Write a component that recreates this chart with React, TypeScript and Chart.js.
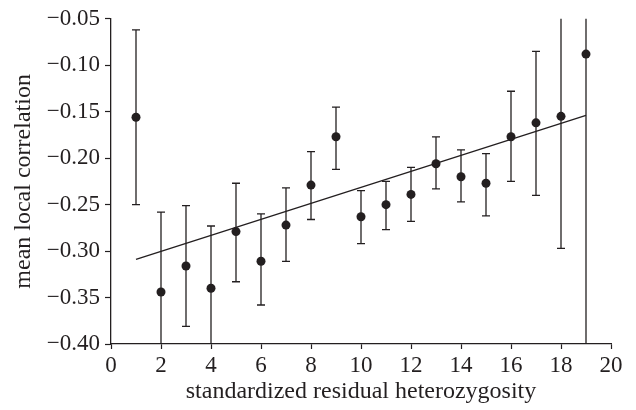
import React, { useEffect, useRef } from "react";
import { Chart, registerables } from "chart.js";

Chart.register(...registerables);

// ---- data ----
const xValues = [1, 2, 3, 4, 5, 6, 7, 8, 9, 10, 11, 12, 13, 14, 15, 16, 17, 18, 19];
const means = [-0.156, -0.344, -0.316, -0.340, -0.279, -0.311, -0.272, -0.229, -0.177, -0.263, -0.250, -0.239, -0.206, -0.220, -0.227, -0.177, -0.162, -0.155, -0.088];
const upperErr = [-0.062, -0.258, -0.251, -0.273, -0.227, -0.260, -0.232, -0.193, -0.145, -0.235, -0.225, -0.210, -0.177, -0.191, -0.195, -0.128, -0.085, 0.02, 0.05];
const lowerErr = [-0.250, -0.45, -0.381, -0.45, -0.333, -0.358, -0.311, -0.266, -0.212, -0.292, -0.277, -0.268, -0.233, -0.247, -0.262, -0.225, -0.240, -0.297, -0.48];
const fitX = [1, 19];
const fitY = [-0.309, -0.154];
const xTicks = [0, 2, 4, 6, 8, 10, 12, 14, 16, 18, 20];
const yTicks = [-0.4, -0.35, -0.3, -0.25, -0.2, -0.15, -0.1, -0.05];

const INK = "#231f20";
const FONT = "'Liberation Serif', 'Times New Roman', serif";

const errorBarPlugin = {
  id: "errorBars",
  beforeDatasetsDraw(chart: any) {
    const { ctx, chartArea } = chart;
    const xs = chart.scales.x;
    const ys = chart.scales.y;
    ctx.save();
    ctx.beginPath();
    ctx.rect(chartArea.left - 10, chartArea.top, chartArea.right - chartArea.left + 20, chartArea.bottom - chartArea.top);
    ctx.clip();
    ctx.strokeStyle = INK;
    ctx.lineWidth = 1.3;
    const half = 4;
    for (let i = 0; i < xValues.length; i++) {
      const px = xs.getPixelForValue(xValues[i]);
      const pTop = ys.getPixelForValue(upperErr[i]);
      const pBot = ys.getPixelForValue(lowerErr[i]);
      ctx.beginPath();
      ctx.moveTo(px, pTop);
      ctx.lineTo(px, pBot);
      ctx.moveTo(px - half, pTop);
      ctx.lineTo(px + half, pTop);
      ctx.moveTo(px - half, pBot);
      ctx.lineTo(px + half, pBot);
      ctx.stroke();
    }
    ctx.restore();
  },
};

const fmt = (v: number) => {
  const s = Math.abs(v).toFixed(2);
  return v < 0 ? "\u2212" + s : s;
};

export default function App() {
  const ref = useRef<HTMLCanvasElement | null>(null);

  useEffect(() => {
    if (!ref.current) return;
    const chart = new Chart(ref.current, {
      type: "scatter",
      data: {
        datasets: [
          {
            type: "line",
            data: fitX.map((x, i) => ({ x, y: fitY[i] })),
            borderColor: INK,
            borderWidth: 1.3,
            pointRadius: 0,
            fill: false,
          } as any,
          {
            type: "scatter",
            data: xValues.map((x, i) => ({ x, y: means[i] })),
            backgroundColor: INK,
            borderColor: INK,
            borderWidth: 0,
            pointRadius: 4.5,
          },
        ],
      },
      options: {
        animation: false,
        responsive: false,
        devicePixelRatio: 1,
        layout: { padding: { top: 16, right: 25, left: 0, bottom: 0 } },
        plugins: {
          legend: { display: false },
          tooltip: { enabled: false },
        },
        scales: {
          x: {
            type: "linear",
            min: 0,
            max: 20,
            afterBuildTicks: (s: any) => {
              s.ticks = xTicks.map((v) => ({ value: v }));
            },
            afterFit: (s: any) => {
              s.height = 66;
            },
            grid: {
              drawOnChartArea: false,
              drawTicks: true,
              tickLength: 5,
              color: INK,
              tickWidth: 1.2,
            },
            border: { display: true, color: INK, width: 1.3 },
            ticks: {
              color: INK,
              padding: 3,
              maxRotation: 0,
              font: { family: FONT, size: 23 },
              callback: (v: any) => String(v),
            },
            title: {
              display: true,
              text: "standardized residual heterozygosity",
              color: INK,
              font: { family: FONT, size: 24, lineHeight: 1 },
              padding: { top: 0, bottom: 6 },
            },
          },
          y: {
            type: "linear",
            min: -0.4,
            max: -0.05,
            afterBuildTicks: (s: any) => {
              s.ticks = yTicks.map((v) => ({ value: v }));
            },
            afterFit: (s: any) => {
              s.width = 111;
            },
            grid: {
              drawOnChartArea: false,
              drawTicks: true,
              tickLength: 6,
              color: INK,
              tickWidth: 1.2,
            },
            border: { display: true, color: INK, width: 1.3 },
            ticks: {
              color: INK,
              padding: 5,
              font: { family: FONT, size: 23 },
              callback: (v: any) => fmt(Number(v)),
            },
            title: {
              display: true,
              text: "mean local correlation",
              color: INK,
              font: { family: FONT, size: 24, lineHeight: 1 },
              padding: { top: 12, bottom: 0 },
            },
          },
        },
      },
      plugins: [errorBarPlugin],
    });
    return () => chart.destroy();
  }, []);

  return (
    <div style={{ position: "absolute", left: 0, top: 0, width: 636, height: 410 }}>
      <canvas ref={ref} width={636} height={410} style={{ display: "block", width: 636, height: 410 }} />
    </div>
  );
}
